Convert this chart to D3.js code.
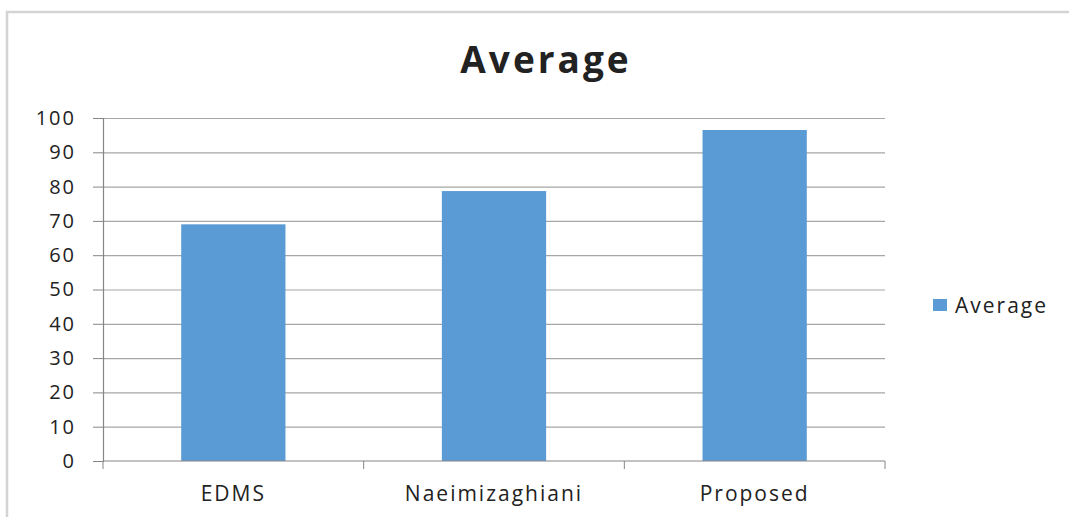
<!DOCTYPE html>
<html lang="en">
<head>
    <meta charset="UTF-8">
    <title>Average</title>
    <script src="https://d3js.org/d3.v7.min.js"></script>
    <style>
        body { margin: 0; background: #ffffff; }
        text { font-family: "Open Sans", "DejaVu Sans", sans-serif; fill: #222; }
    </style>
</head>
<body>
    <svg id="chart" width="1069" height="517"></svg>
    <script>
        // Chart data
        const categories = ["EDMS", "Naeimizaghiani", "Proposed"];
        const averageValues = [69, 78.7, 96.5];
        const yTicks = [0, 10, 20, 30, 40, 50, 60, 70, 80, 90, 100];
        const seriesName = "Average";

        const svg = d3.select("#chart");
        const margin = { left: 103, right: 184, top: 118, bottom: 56 };
        const width = 1069, height = 517;

        // outer chart frame
        svg.append("path")
            .attr("d", "M7,517 V12 H1069")
            .attr("fill", "none")
            .attr("stroke", "#d4d4d4")
            .attr("stroke-width", 2.5);

        const x = d3.scaleBand()
            .domain(categories)
            .range([margin.left, width - margin.right])
            .paddingInner(0.6)
            .paddingOuter(0.3);

        const y = d3.scaleLinear()
            .domain([0, 100])
            .range([height - margin.bottom, margin.top]);

        // gridlines
        svg.append("g")
            .selectAll("line")
            .data(yTicks.slice(1))
            .enter().append("line")
            .attr("x1", margin.left)
            .attr("x2", width - margin.right)
            .attr("y1", d => y(d) + 0.5)
            .attr("y2", d => y(d) + 0.5)
            .attr("stroke", "#a6a6a6")
            .attr("stroke-width", 1.2);

        // bars
        svg.append("g")
            .selectAll("rect")
            .data(averageValues)
            .enter().append("rect")
            .attr("x", (d, i) => x(categories[i]))
            .attr("y", d => y(d))
            .attr("width", x.bandwidth())
            .attr("height", d => y(0) - y(d))
            .attr("fill", "#5b9bd5");

        // y axis
        const yAxis = svg.append("g")
            .attr("transform", `translate(${margin.left},0)`)
            .call(d3.axisLeft(y).tickValues(yTicks).tickSize(10).tickPadding(17));
        yAxis.select(".domain").attr("stroke", "#868686").attr("stroke-width", 1.2);
        yAxis.selectAll(".tick line").attr("stroke", "#868686");
        yAxis.selectAll("text")
            .style("font-size", "20px")
            .style("letter-spacing", "2px")
            .attr("fill", "#222");

        // x axis with ticks between categories
        const xBounds = [0, 1, 2, 3].map(i => margin.left + i * (width - margin.left - margin.right) / 3);
        const xAxis = svg.append("g")
            .attr("transform", `translate(0,${y(0)})`);
        xAxis.append("line")
            .attr("x1", margin.left)
            .attr("x2", width - margin.right)
            .attr("stroke", "#868686")
            .attr("stroke-width", 1.2);
        xAxis.selectAll(".xt")
            .data(xBounds)
            .enter().append("line")
            .attr("class", "xt")
            .attr("x1", d => d).attr("x2", d => d)
            .attr("y1", 0).attr("y2", 8)
            .attr("stroke", "#868686");
        xAxis.selectAll("text")
            .data(categories)
            .enter().append("text")
            .attr("x", d => x(d) + x.bandwidth() / 2)
            .attr("y", 40)
            .attr("text-anchor", "middle")
            .style("font-size", "21px")
            .style("letter-spacing", "2px")
            .text(d => d);

        // title
        svg.append("text")
            .attr("x", 546)
            .attr("y", 73)
            .attr("text-anchor", "middle")
            .style("font-size", "37px")
            .style("font-weight", "bold")
            .style("letter-spacing", "3px")
            .attr("fill", "#000")
            .text(seriesName);

        // legend
        svg.append("rect")
            .attr("x", 933).attr("y", 299)
            .attr("width", 14).attr("height", 12)
            .attr("fill", "#5b9bd5");
        svg.append("text")
            .attr("x", 955).attr("y", 313)
            .style("font-size", "21px")
            .style("letter-spacing", "2px")
            .text(seriesName);
    </script>
</body>
</html>
